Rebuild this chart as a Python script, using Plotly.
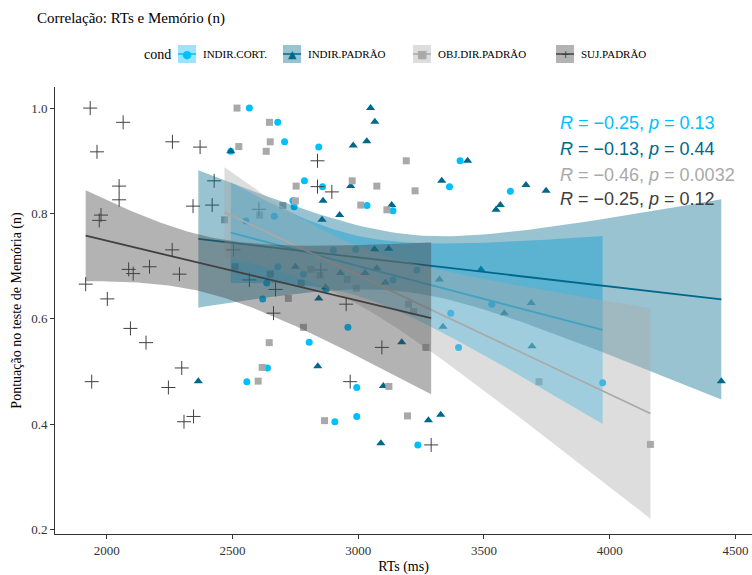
import numpy as np
import plotly.graph_objects as go

# ---------------- data ----------------
groups = ["INDIR.CORT.", "INDIR.PADRÃO", "OBJ.DIR.PADRÃO", "SUJ.PADRÃO"]

cort_rt = [2567, 2680, 2707, 2843, 2786, 2858, 3035, 3138, 2740, 2745, 3405, 3363,
           3605, 2553, 2666, 2680, 2636, 2620, 2901, 2990, 2872, 2959, 3233, 3138,
           3368, 2782, 2805, 2639, 2557, 2907, 2994, 2994, 3399, 3237, 3972, 3531, 2493]
cort_mem = [1.000, 0.973, 0.936, 0.926, 0.862, 0.851, 0.815, 0.805, 0.824, 0.813, 0.900, 0.851,
            0.842, 0.786, 0.795, 0.699, 0.668, 0.638, 0.730, 0.732, 0.656, 0.584, 0.693, 0.674,
            0.611, 0.685, 0.556, 0.507, 0.481, 0.405, 0.470, 0.415, 0.546, 0.361, 0.479, 0.628, 0.918]

padrao_rt = [2493, 2364, 3049, 3066, 2980, 3034, 3435, 3332, 2970, 2860, 2926, 2856,
             3133, 3065, 3121, 3488, 3323, 2750, 2929, 3027, 3074, 3108, 2870, 2843,
             3337, 3173, 3100, 3279, 3328, 2839, 3090, 3667, 3747, 3565, 3548, 3581,
             3688, 3691, 4444]
padrao_mem = [0.918, 0.482, 1.000, 0.974, 0.929, 0.937, 0.900, 0.862, 0.852, 0.824, 0.797, 0.788,
              0.816, 0.732, 0.733, 0.694, 0.675, 0.699, 0.687, 0.687, 0.696, 0.669, 0.660, 0.639,
              0.585, 0.556, 0.473, 0.408, 0.418, 0.510, 0.364, 0.854, 0.843, 0.816, 0.807, 0.611,
              0.630, 0.548, 0.482]

obj_rt = [2518, 2647, 2650, 2525, 2634, 2468, 2608, 2700, 2510, 2650, 2722, 2753,
          2976, 3074, 3010, 3114, 3226, 3191, 2750, 2812, 2773, 2848, 2957, 2992,
          3200, 3220, 2782, 2646, 2618, 2602, 2866, 3269, 3122, 3196, 3719, 4162]
obj_mem = [1.000, 0.973, 0.936, 0.927, 0.918, 0.788, 0.797, 0.815, 0.699, 0.685, 0.639, 0.852,
           0.862, 0.852, 0.816, 0.807, 0.843, 0.900, 0.824, 0.694, 0.668, 0.683, 0.675, 0.658,
           0.628, 0.614, 0.584, 0.555, 0.508, 0.482, 0.407, 0.546, 0.472, 0.416, 0.481, 0.362]

suj_rt = [1934, 2065, 1961, 2261, 2371, 2049, 2049, 2343, 2419, 1977, 1970, 2427,
          2260, 1916, 2087, 2105, 2170, 2289, 2002, 2504, 2605, 2567, 2671, 2663,
          2094, 2156, 1940, 2298, 2245, 2345, 2307, 2838, 2838, 2895, 2851, 2952,
          3094, 2968, 3290]
suj_mem = [1.000, 0.973, 0.917, 0.936, 0.926, 0.852, 0.826, 0.814, 0.816, 0.797, 0.787, 0.862,
           0.731, 0.666, 0.694, 0.686, 0.699, 0.685, 0.638, 0.731, 0.808, 0.674, 0.656, 0.611,
           0.582, 0.555, 0.481, 0.507, 0.470, 0.415, 0.405, 0.900, 0.851, 0.841, 0.693, 0.628,
           0.546, 0.481, 0.361]

r_values = ["−0.25", "−0.13", "−0.46", "−0.25"]
p_values = ["0.13", "0.44", "0.0032", "0.12"]

x_ticks = [2000, 2500, 3000, 3500, 4000, 4500]
y_ticks = [0.2, 0.4, 0.6, 0.8, 1.0]
y_ticklabels = ["0.2", "0.4", "0.6", "0.8", "1.0"]

# ---------------- styles ----------------
colors = ["#00BFFF", "#00688B", "#A9A9A9", "#404040"]
symbols = ["circle", "triangle-up", "square", "cross-thin"]
sizes = [7, 8, 7, 10]
glyphs = ["●", "▲", "■", "+"]
ALPHA = 0.4
SERIF = "Liberation Serif, Times New Roman, serif"
SANS = "Liberation Sans, Arial, sans-serif"

W, H = 752, 575
ML, MR, MT, MB = 55, 0, 87, 41


def rgba(hex_color, a):
    h = hex_color.lstrip("#")
    r, g, b = int(h[0:2], 16), int(h[2:4], 16), int(h[4:6], 16)
    return f"rgba({r},{g},{b},{a})"


def blend_white(hex_color, a):
    h = hex_color.lstrip("#")
    c = [int(h[i:i + 2], 16) for i in (0, 2, 4)]
    c = [round(255 * (1 - a) + v * a) for v in c]
    return "#%02X%02X%02X" % tuple(c)


def t975(df):
    z = 1.959964
    g1 = (z ** 3 + z) / 4
    g2 = (5 * z ** 5 + 16 * z ** 3 + 3 * z) / 96
    g3 = (3 * z ** 7 + 19 * z ** 5 + 17 * z ** 3 - 15 * z) / 384
    return z + g1 / df + g2 / df ** 2 + g3 / df ** 3


def lm_band(x, y, npts=80):
    x = np.asarray(x, float)
    y = np.asarray(y, float)
    n = len(x)
    b, a = np.polyfit(x, y, 1)
    xs = np.linspace(x.min(), x.max(), npts)
    yhat = a + b * xs
    res = y - (a + b * x)
    s = np.sqrt(np.sum(res ** 2) / (n - 2))
    xm = x.mean()
    sxx = np.sum((x - xm) ** 2)
    se = s * np.sqrt(1.0 / n + (xs - xm) ** 2 / sxx)
    t = t975(n - 2)
    return xs, yhat, yhat - t * se, yhat + t * se


def px2paper_x(px):
    return (px - ML) / (W - ML - MR)


def px2paper_y(py):
    return (H - MB - py) / (H - MT - MB)


data = [(cort_rt, cort_mem), (padrao_rt, padrao_mem), (obj_rt, obj_mem), (suj_rt, suj_mem)]

fig = go.Figure()

# points first (under the smooth layers)
for i, (xv, yv) in enumerate(data):
    marker = dict(color=colors[i], size=sizes[i], symbol=symbols[i])
    if symbols[i] == "cross-thin":
        marker["line"] = dict(color=colors[i], width=1.0)
    else:
        marker["line"] = dict(width=0)
    fig.add_trace(go.Scatter(x=xv, y=yv, mode="markers", marker=marker,
                             name=groups[i], showlegend=False, hoverinfo="x+y"))

# regression ribbons + lines, group by group
for i, (xv, yv) in enumerate(data):
    xs, yhat, lo, hi = lm_band(xv, yv)
    fig.add_trace(go.Scatter(x=np.concatenate([xs, xs[::-1]]),
                             y=np.concatenate([hi, lo[::-1]]),
                             mode="lines", fill="toself", fillcolor=rgba(colors[i], ALPHA),
                             line=dict(width=0), showlegend=False, hoverinfo="skip"))
    fig.add_trace(go.Scatter(x=xs, y=yhat, mode="lines",
                             line=dict(color=colors[i], width=1.8),
                             showlegend=False, hoverinfo="skip"))

# correlation labels
label_x = 3795
label_y = [0.971, 0.922, 0.873, 0.8275]
for i in range(4):
    fig.add_annotation(x=label_x, y=label_y[i], xref="x", yref="y",
                       text=f"<i>R</i> = {r_values[i]}, <i>p</i> = {p_values[i]}",
                       showarrow=False, xanchor="left", yanchor="middle",
                       font=dict(family=SANS, size=18, color=colors[i]))

# custom legend (ggplot style keys)
leg_y = 54
key_w = 18
key_x = [178, 283, 413, 556]
fig.add_annotation(x=px2paper_x(173), y=px2paper_y(leg_y), xref="paper", yref="paper",
                   text="cond", showarrow=False, xanchor="right", yanchor="middle",
                   font=dict(family=SERIF, size=14, color="black"))
for i in range(4):
    x0 = key_x[i]
    fig.add_shape(type="rect", xref="paper", yref="paper",
                  x0=px2paper_x(x0), x1=px2paper_x(x0 + key_w),
                  y0=px2paper_y(leg_y + key_w / 2), y1=px2paper_y(leg_y - key_w / 2),
                  fillcolor=blend_white(colors[i], ALPHA), line=dict(width=0), layer="above")
    fig.add_shape(type="line", xref="paper", yref="paper",
                  x0=px2paper_x(x0), x1=px2paper_x(x0 + key_w),
                  y0=px2paper_y(leg_y), y1=px2paper_y(leg_y),
                  line=dict(color=colors[i], width=1.5), layer="above")
    fig.add_annotation(x=px2paper_x(x0 + key_w / 2), y=px2paper_y(leg_y), xref="paper", yref="paper",
                       text=glyphs[i], showarrow=False, xanchor="center", yanchor="middle",
                       font=dict(family="DejaVu Sans", size=11, color=colors[i]))
    fig.add_annotation(x=px2paper_x(x0 + key_w + 5), y=px2paper_y(leg_y), xref="paper", yref="paper",
                       text=groups[i], showarrow=False, xanchor="left", yanchor="middle",
                       font=dict(family=SERIF, size=11, color="black"))

fig.update_layout(
    width=W, height=H,
    margin=dict(l=ML, r=MR, t=MT, b=MB),
    paper_bgcolor="white", plot_bgcolor="white",
    showlegend=False,
    title=dict(text="Correlação: RTs e Memório (n)", x=37 / W, y=1 - 18 / H,
               xanchor="left", yanchor="middle",
               font=dict(family=SERIF, size=15, color="black")),
    xaxis=dict(range=[1794, 4566], tickvals=x_ticks, showgrid=False, zeroline=False,
               showline=True, linecolor="#333333", linewidth=1,
               ticks="outside", ticklen=4, tickcolor="#333333",
               tickfont=dict(family=SERIF, size=13, color="#333333"),
               title=dict(text="RTs (ms)", font=dict(family=SERIF, size=14, color="black"),
                          standoff=4)),
    yaxis=dict(range=[0.192, 1.040], tickvals=y_ticks, ticktext=y_ticklabels,
               showgrid=False, zeroline=False,
               showline=True, linecolor="#333333", linewidth=1,
               ticks="outside", ticklen=4, tickcolor="#333333",
               tickfont=dict(family=SERIF, size=13, color="#333333"),
               title=dict(text="Pontuação no teste de Memória (n)",
                          font=dict(family=SERIF, size=14, color="black"), standoff=6)),
)

fig.write_html("out.html", config={"displayModeBar": False},
               post_script="document.body.style.margin='0';")
